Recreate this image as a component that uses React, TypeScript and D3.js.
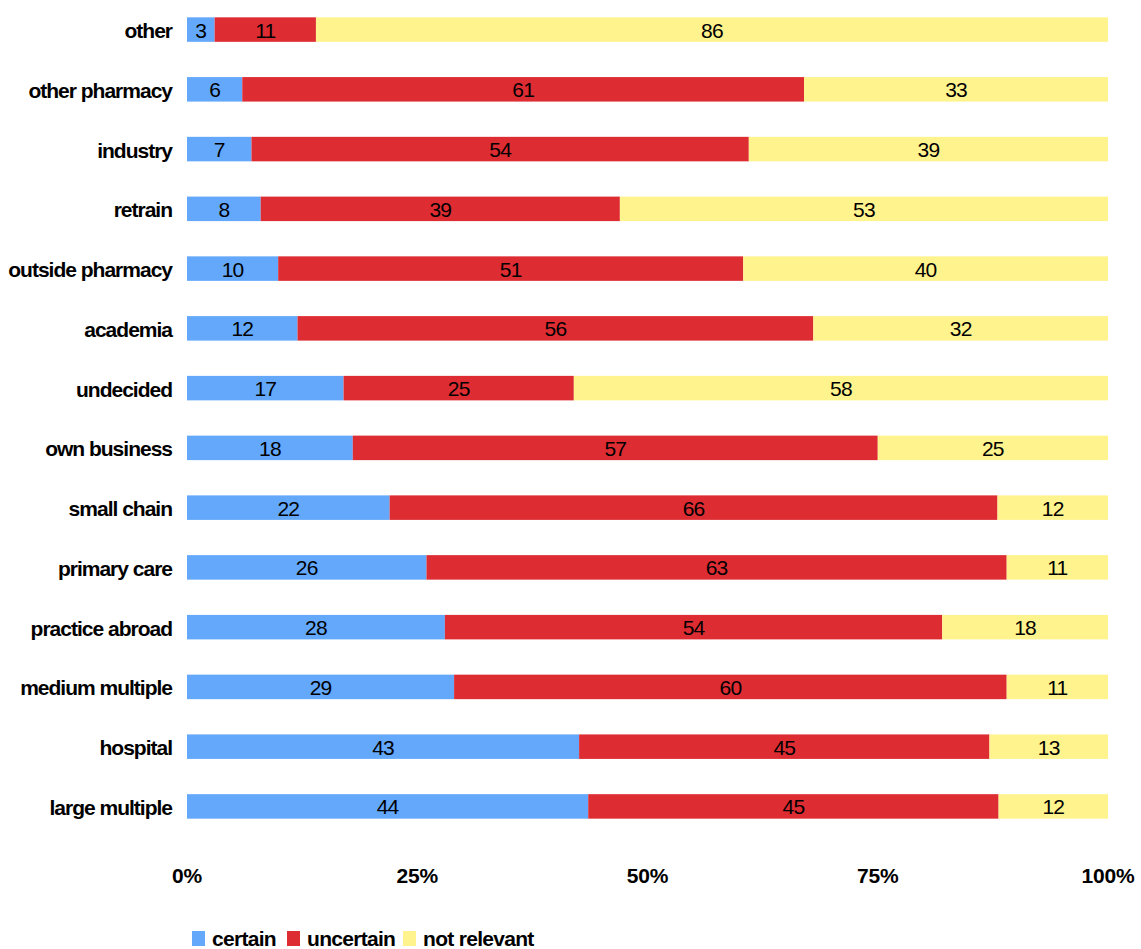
import React from "react";
import * as d3 from "d3";

const categories = [
  "other", "other pharmacy", "industry", "retrain", "outside pharmacy", "academia",
  "undecided", "own business", "small chain", "primary care", "practice abroad",
  "medium multiple", "hospital", "large multiple",
];
const certain = [3, 6, 7, 8, 10, 12, 17, 18, 22, 26, 28, 29, 43, 44];
const uncertain = [11, 61, 54, 39, 51, 56, 25, 57, 66, 63, 54, 60, 45, 45];
const notRelevant = [86, 33, 39, 53, 40, 32, 58, 25, 12, 11, 18, 11, 13, 12];
const seriesNames = ["certain", "uncertain", "not relevant"];
const colors = ["#63A8FB", "#DE2C33", "#FFF38D"];
const ticks = [0, 0.25, 0.5, 0.75, 1];

export default function App() {
  const W = 1141, H = 949;
  const x = d3.scaleLinear().domain([0, 1]).range([187, 1108]);
  const y = d3.scaleBand().domain(categories).range([0, 836]).paddingInner(0.59).paddingOuter(0.29);
  const rows = categories.map((c, i) => {
    const vals = [certain[i], uncertain[i], notRelevant[i]];
    const sum = d3.sum(vals);
    let acc = 0;
    return vals.map((v, k) => {
      const s = acc / sum;
      acc += v;
      return { c, v, k, s, e: acc / sum };
    });
  });
  const font = "'Liberation Sans', Arial, sans-serif";
  const legendX = [192, 287, 403];
  return (
    <svg width={W} height={H} style={{ position: "absolute", left: 0, top: 0 }} fontFamily={font}>
      {rows.map((segs, i) => (
        <g key={i}>
          {segs.map((d) => (
            <rect key={d.k} x={x(d.s)} y={y(d.c)!} width={x(d.e) - x(d.s)} height={y.bandwidth()} fill={colors[d.k]} />
          ))}
          {segs.map((d) => (
            <text key={"t" + d.k} x={(x(d.s) + x(d.e)) / 2} y={y(d.c)! + y.bandwidth() / 2 + 8}
              textAnchor="middle" fontSize={21} letterSpacing={-0.8} fill="#000">{d.v}</text>
          ))}
          <text x={172} y={y(categories[i])! + y.bandwidth() / 2 + 8.5} textAnchor="end" fontSize={21}
            fontWeight="bold" letterSpacing={-1.0} fill="#000">{categories[i]}</text>
        </g>
      ))}
      {ticks.map((t) => (
        <text key={t} x={x(t)} y={883} textAnchor="middle" fontSize={21} fontWeight="bold" letterSpacing={-0.2}>
          {d3.format(".0%")(t)}
        </text>
      ))}
      {seriesNames.map((n, k) => (
        <g key={n}>
          <rect x={legendX[k]} y={931} width={13} height={15} fill={colors[k]} />
          <text x={legendX[k] + 20} y={946} fontSize={21} fontWeight="bold" letterSpacing={-0.7}>{n}</text>
        </g>
      ))}
    </svg>
  );
}
